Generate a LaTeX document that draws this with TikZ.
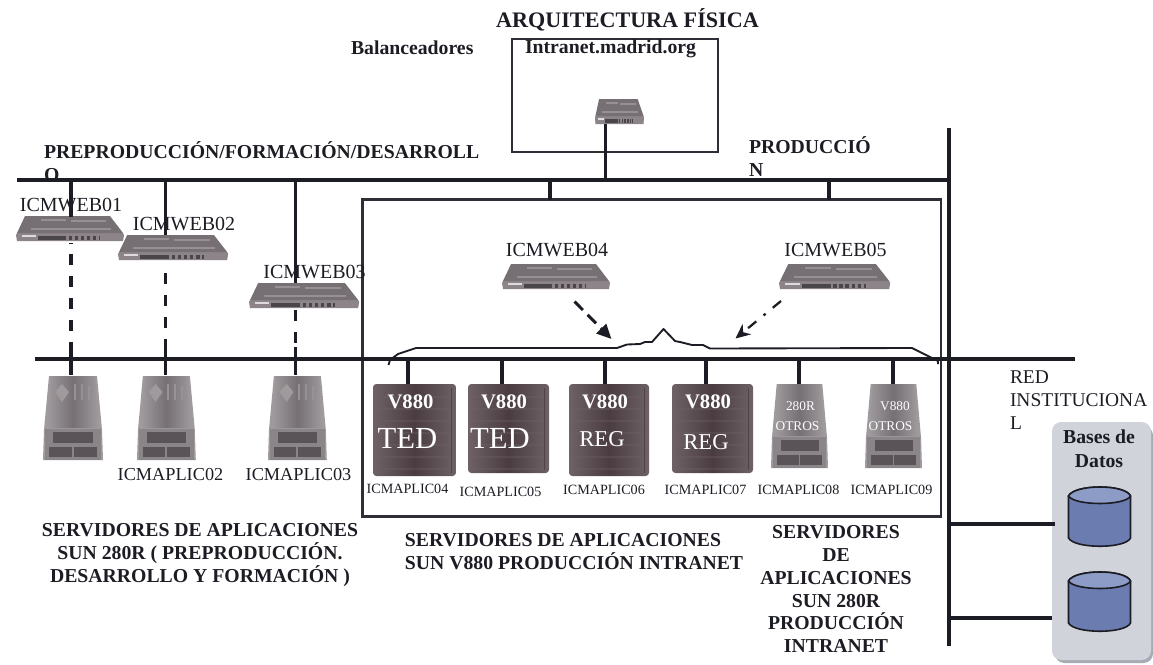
\documentclass[tikz,border=0pt]{standalone}
\usepackage{fontspec}
\setmainfont{Liberation Serif}
\usetikzlibrary{arrows.meta}
\definecolor{ink}{HTML}{1C1C24}
\definecolor{boxline}{HTML}{2E2E36}
\definecolor{swtop}{HTML}{767074}
\definecolor{swlight}{HTML}{969094}
\definecolor{swfront}{HTML}{8D8489}
\definecolor{swdark}{HTML}{4A4549}
\definecolor{sunbody}{HTML}{767074}
\definecolor{sunlight}{HTML}{A09A9D}
\definecolor{sundark}{HTML}{5A5458}
\definecolor{vdark}{HTML}{4A3C40}
\definecolor{vedge}{HTML}{6E6266}
\definecolor{panel}{HTML}{D0D3DA}
\definecolor{panelshadow}{HTML}{A8ABB3}
\definecolor{cylbody}{HTML}{6A7CB0}
\definecolor{cyltop}{HTML}{8D9CC6}
\newcommand\fs[2]{\fontsize{#1}{#2}\selectfont}
\tikzset{
  every node/.style={inner sep=0pt,outer sep=0pt,text=ink},
  bus/.style={draw=ink,line width=2.3pt},
  link/.style={draw=ink,line width=2.4pt},
  dlink/.style={draw=ink,line width=2.4pt,dash pattern=on 8.25pt off 8.25pt},
  frame/.style={draw=boxline,line width=1.6pt},
  brace/.style={draw=ink,line width=1.4pt,line join=round},
  titlelab/.style={font=\bfseries\fs{16.6}{19}},
  head/.style={font=\bfseries\fs{14.8}{17.2},align=left},
  sect/.style={font=\bfseries\fs{14.8}{17.2},align=center},
  sw/.style={font=\fs{15}{17}},
  apl/.style={font=\fs{13.7}{16}},
  aps/.style={font=\fs{10.6}{13}},
  wbig/.style={text=white,font=\bfseries\fs{15.5}{17}},
  wted/.style={text=white,font=\fs{23}{26}},
  wreg/.style={text=white,font=\fs{17}{19}},
  wsm/.style={text=white,font=\fs{10}{12}},
}
% switch: #1 name, #2 left, #3 top, #4 xscale
\newcommand\Switch[4]{%
  \begin{scope}[shift={(#2,#3)},xscale=#4]
    \fill[swfront] (0,19)--(1,17)--(107,17)--(108,19)--(107,25)--(1,25)--cycle;
    \fill[swtop] (9,0)--(94,0)--(107,17)--(1,17)--cycle;
    \fill[swlight] (25,3) rectangle (50,5);
    \fill[swlight] (55,4) rectangle (90,6);
    \fill[swlight] (15,12) rectangle (95,14);
    \fill[white!70!swfront] (6,19) rectangle (20,20.5);
    \fill[swdark] (22,19.5) rectangle (84,24);
    \foreach \k in {50,56,...,82} {\fill[swfront] (\k,19.5) rectangle (\k+2.5,24);}
    \coordinate (#1) at (54,12);
  \end{scope}}
% Sun server: #1 name, #2 left, #3 top, #4 xscale (60 wide, 84 high)
\newcommand\Sun[4]{%
  \begin{scope}[shift={(#2,#3)},xscale=#4]
    \fill[sunlight] (6,0)--(54,0)--(59,54)--(60,84)--(0,84)--(1,54)--cycle;
    \shade[left color=sunbody!70!white,right color=sunbody!70!white,middle color=sunbody]
       (8,0)--(52,0)--(56,52)--(4,52)--cycle;
    \fill[sunlight] (19,8)--(26,16)--(19,26)--(12,16)--cycle;
    \fill[sunlight!80!sunbody] (31,8) rectangle (33,24);
    \fill[sunlight!80!sunbody] (38,8) rectangle (40,24);
    \fill[sunlight!80!sunbody] (45,10) rectangle (47,24);
    \fill[sunbody!85!white] (2,53) rectangle (58,84);
    \fill[sundark] (10,56) rectangle (50,67);
    \fill[sundark] (6,71) rectangle (54,81);
    \fill[sunbody!85!white] (29,71) rectangle (31,81);
    \coordinate (#1) at (30,0);
  \end{scope}}
% Sun server without a logo, for the two labelled ones
\newcommand\SunPlain[4]{%
  \begin{scope}[shift={(#2,#3)},xscale=#4]
    \fill[sunlight] (6,0)--(54,0)--(59,54)--(60,84)--(0,84)--(1,54)--cycle;
    \shade[left color=sunbody!70!white,right color=sunbody!70!white,middle color=sunbody]
       (8,0)--(52,0)--(56,52)--(4,52)--cycle;
    \fill[sunbody!85!white] (2,53) rectangle (58,84);
    \fill[sundark] (10,56) rectangle (50,67);
    \fill[sundark] (6,71) rectangle (54,81);
    \fill[sunbody!85!white] (29,71) rectangle (31,81);
    \coordinate (#1) at (30,0);
  \end{scope}}
% V880 cabinet: #1 name, #2 left, #3 top, #4 right, #5 bottom
\newcommand\Cabinet[5]{%
  \shade[left color=vedge,right color=vedge,middle color=vdark,rounded corners=2.5pt]
     (#2,#3) rectangle (#4,#5);
  \foreach \k in {12,24,...,84} {\fill[vedge,opacity=.35] (#2+4,#3+\k) rectangle (#4-4,#3+\k+1.5);}
  \fill[vdark!70!black,opacity=.5] (#4-5,#3+4) rectangle (#4-4,#5-3);
  \coordinate (#1) at ({(#2+#4)/2},#3);}
% Database cylinder: #1 left, #2 top
\newcommand\Cyl[2]{%
  \begin{scope}[shift={(#1,#2)}]
    \filldraw[fill=cylbody,draw=ink,line width=1.2pt] (0,9) -- (0,51)
       .. controls (6,62) and (57,62) .. (62,51) -- (62,9)
       .. controls (57,-3) and (6,-3) .. (0,9) -- cycle;
    \filldraw[fill=cyltop,draw=ink,line width=1.2pt] (0,9)
       .. controls (6,-3) and (57,-3) .. (62,9)
       .. controls (57,19) and (6,19) .. (0,9) -- cycle;
  \end{scope}}
\begin{document}
\begin{tikzpicture}[x=0.75pt,y=-0.75pt]
\useasboundingbox (0,0) rectangle (1153,664);

% coordinates on the buses
\coordinate (busTopL) at (17,180);
\coordinate (busTopR) at (949,180);
\coordinate (busLowL) at (35,359);
\coordinate (busLowR) at (1075,359);
\coordinate (vTop) at (949,128);
\coordinate (vBot) at (949,646);

% ---------- labels that the buses cover ----------
\node[titlelab,anchor=center] (title) at (627.5,20) {ARQUITECTURA FÍSICA};
\node[head,anchor=west] (bal) at (351,48) {Balanceadores};
\node[head,anchor=north west] (pre) at (44,142) {PREPRODUCCIÓN/FORMACIÓN/DESARROLL\\[0pt]O};
\node[head,anchor=north west] (pro) at (749,137) {PRODUCCIÓ\\[0pt]N};

% ---------- balancer box ----------
\draw[frame] (512,39) rectangle (718,152);
\node[head,anchor=west] (intra) at (525,49) {Intranet.madrid.org};
\Switch{lb}{595}{99}{0.4537}

% ---------- production box ----------
\draw[frame] (362.5,199.5) rectangle (941,516.5);

% ---------- switches ----------
\Switch{web1}{16}{216}{1}
\Switch{web2}{118}{235}{1.02}
\Switch{web3}{249}{283}{1.02}
\Switch{web4}{502}{264}{1}
\Switch{web5}{779}{264}{1.03}
\node[sw,anchor=center] (lw1) at (71,205) {ICMWEB01};
\node[sw,anchor=center] (lw2) at (184,224) {ICMWEB02};
\node[sw,anchor=center] (lw3) at (314.5,272) {ICMWEB03};
\node[sw,anchor=center] (lw4) at (557,250) {ICMWEB04};
\node[sw,anchor=center] (lw5) at (835.5,250) {ICMWEB05};

% ---------- upper connectors ----------
\coordinate (u1) at (71,217);
\coordinate (u2) at (165.5,235);
\coordinate (u3) at (295.5,283);
\coordinate (u4) at (605.5,124);
\coordinate (u5) at (550,199.5);
\coordinate (u6) at (829,199.5);
\draw[link] (u1 |- busTopL) -- (u1);
\draw[link] (u2 |- busTopL) -- (u2);
\draw[link] (u3 |- busTopL) -- (u3);
\draw[link] (u4 |- busTopL) -- (u4);
\draw[link] (u5 |- busTopL) -- (u5);
\draw[link] (u6 |- busTopL) -- (u6);

% ---------- Sun servers ----------
\Sun{a1}{43}{376}{1}
\Sun{a2}{137}{376}{0.98}
\Sun{a3}{268}{376}{0.98}
\SunPlain{a8}{771}{384}{0.95}
\SunPlain{a9}{865}{384}{0.95}
\Cabinet{a4}{373}{384}{456}{476}
\Cabinet{a5}{468}{384}{549}{473}
\Cabinet{a6}{569}{384}{649}{476}
\Cabinet{a7}{672}{384}{753}{473}

\node[wbig] (v4) at (410.5,402) {V880};
\node[wbig] (v5) at (504,402) {V880};
\node[wbig] (v6) at (605,402) {V880};
\node[wbig] (v7) at (708,402) {V880};
\node[wted] (t4) at (407.5,438) {TED};
\node[wted] (t5) at (500,438) {TED};
\node[wreg] (r6) at (602,439) {REG};
\node[wreg] (r7) at (706,442) {REG};
\node[wsm] (s8a) at (800.5,406) {280R};
\node[wsm] (s8b) at (797.5,426) {OTROS};
\node[wsm] (s9a) at (895,406) {V880};
\node[wsm] (s9b) at (890.5,426) {OTROS};

% ---------- dashed drops and ticks ----------
\coordinate (d1) at (71,243);
\coordinate (d2) at (165.5,273);
\coordinate (d3) at (295.5,310);
\coordinate (e1) at (71,347);
\coordinate (e2) at (165.5,347);
\coordinate (e3) at (295.5,347);
\coordinate (f1) at (71,375);
\coordinate (f2) at (165.5,375);
\coordinate (f3) at (295.5,375);
\draw[dlink,dash phase=8pt] (d1) -- (e1);
\draw[dlink] (d2) -- (e2);
\draw[dlink] (d3) -- (e3);
\draw[link] (e1) -- (f1);
\draw[link] (e2) -- (f2);
\draw[link] (e3) -- (f3);
\coordinate (g4) at (408,384);
\coordinate (g5) at (502,384);
\coordinate (g6) at (605,384);
\coordinate (g7) at (706,384);
\coordinate (g8) at (799,384);
\coordinate (g9) at (893,384);
\foreach \n in {g4,g5,g6,g7,g8,g9} {\draw[link] (\n |- busLowL) -- (\n);}

% ---------- brace ----------
\draw[brace] (388.5,365) -- (390,360) -- (398,354) -- (416,348) -- (617,348) -- (627,344.5) -- (640,344) -- (645,342) -- (652,342)
  -- (663.5,329) -- (675,341) -- (680,342) -- (692,345) -- (703,345) -- (710,348.5) -- (912,348) -- (938,361) -- (938,364);

% ---------- arrows ----------
\coordinate (ar1s) at (574.5,301.5);
\coordinate (ar1e) at (611.5,339);
\coordinate (ar2s) at (781,301);
\coordinate (ar2e) at (735.5,338.5);
\draw[draw=ink,line width=2.2pt,dash pattern=on 9pt off 5pt,-{Triangle[length=11pt,width=10pt]}] (ar1s) -- (ar1e);
\draw[draw=ink,line width=1.7pt,dash pattern=on 8pt off 7pt on 2pt off 7pt on 8pt,-{Stealth[length=11pt,width=10pt]}] (ar2s) -- (ar2e);

% ---------- buses and right trunk ----------
\draw[bus] (busTopL) -- (busTopR);
\draw[bus] (busLowL) -- (busLowR);
\draw[bus] (vTop) -- (vBot);

% ---------- database panel ----------
\fill[panelshadow,rounded corners=7pt] (1055,426) rectangle (1153,663);
\fill[panel,rounded corners=7pt] (1052,422) rectangle (1151,660);
\node[anchor=center,align=center,font=\bfseries\fs{14.8}{18}] (bd) at (1099,449) {Bases de\\Datos};
\Cyl{1068.5}{487}
\Cyl{1068.5}{572}
\coordinate (dbA) at (1055,524);
\coordinate (dbB) at (1052,618);
\draw[link] (vBot |- dbA) -- (dbA);
\draw[link] (vBot |- dbB) -- (dbB);

% ---------- lower labels ----------
\node[apl] (la2) at (170.5,475) {ICMAPLIC02};
\node[apl] (la3) at (298.5,475) {ICMAPLIC03};
\node[aps] (la4) at (407.5,489) {ICMAPLIC04};
\node[aps] (la5) at (500.5,492) {ICMAPLIC05};
\node[aps] (la6) at (604,490) {ICMAPLIC06};
\node[aps] (la7) at (705.5,490) {ICMAPLIC07};
\node[aps] (la8) at (798.5,490) {ICMAPLIC08};
\node[aps] (la9) at (891.5,490) {ICMAPLIC09};
\node[anchor=north west,align=left,font=\fs{14.6}{17.2}] (red) at (1010,371) {RED\\INSTITUCIONA\\L};

\node[sect] (t1) at (200,555) {SERVIDORES DE APLICACIONES\\SUN 280R ( PREPRODUCCIÓN.\\DESARROLLO Y FORMACIÓN )};
\node[sect,align=left,anchor=center] (t2) at (574,552) {SERVIDORES DE APLICACIONES\\SUN V880 PRODUCCIÓN INTRANET};
\node[sect] (t3) at (836,589) {SERVIDORES\\DE\\APLICACIONES\\SUN 280R\\PRODUCCIÓN\\INTRANET};
\end{tikzpicture}
\end{document}
